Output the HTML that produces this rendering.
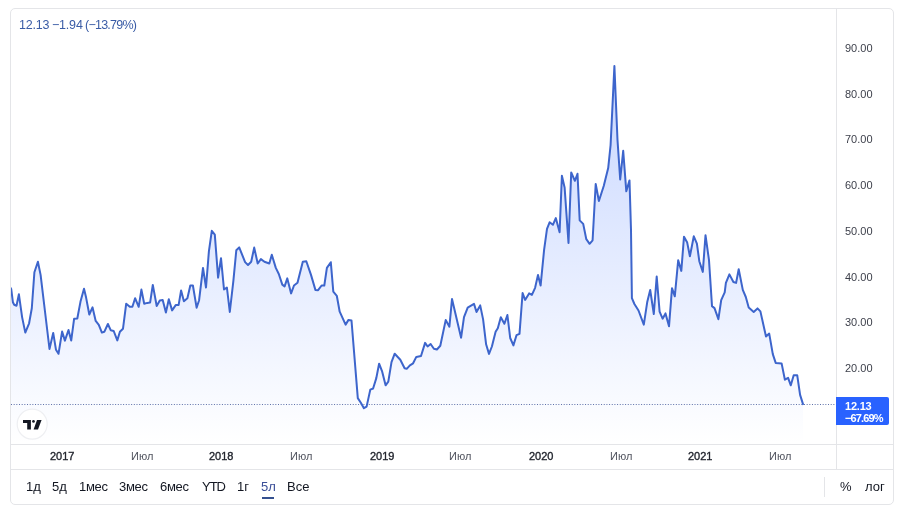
<!DOCTYPE html>
<html>
<head>
<meta charset="utf-8">
<style>
html, body { margin: 0; padding: 0; background: #ffffff; width: 898px; height: 511px; overflow: hidden; }
body { position: relative; font-family: "Liberation Sans", sans-serif; }
.card { position: absolute; left: 10px; top: 8px; width: 882px; height: 495px; border: 1px solid #e4e5e8; border-radius: 5px; box-sizing: content-box; }
svg.chart { position: absolute; left: 0; top: 0; }
.t { position: absolute; white-space: nowrap; line-height: 1; will-change: transform; }
.legend { top: 19px; font-size: 12.5px; color: #3a5ca6; letter-spacing:-0.2px; }
.price { left: 845px; font-size: 11px; color: #3c3f4a; }
.time { top: 451px; font-size: 11px; color: #131722; }
.time.b { font-weight: normal; color: #22252e; -webkit-text-stroke: 0.35px #22252e; }
.time.m { color: #50535e; }
.btn { top: 480px; font-size: 13px; color: #131722; }
.btn.sel { color: #3b4f98; }
.lbl { position: absolute; left: 836px; top: 397px; width: 53px; height: 28px; background: #2962ff; border-radius: 0 2px 2px 0; }
.lbl .t { color: #ffffff; font-size: 11px; font-weight: bold; left: 9px; }
</style>
</head>
<body>
<div class="card"></div>
<svg class="chart" width="898" height="511" viewBox="0 0 898 511">
  <defs>
    <linearGradient id="g" x1="0" y1="66" x2="0" y2="444" gradientUnits="userSpaceOnUse">
      <stop offset="0" stop-color="#2962ff" stop-opacity="0.26"/>
      <stop offset="1" stop-color="#2962ff" stop-opacity="0.0"/>
    </linearGradient>
    <clipPath id="pane"><rect x="11" y="9" width="825" height="435"/></clipPath>
  </defs>
  <g clip-path="url(#pane)">
    <path d="M10 287 L11.2 289 L12.9 302.2 L14.2 304.8 L16.5 305.7 L18.9 294.3 L22.1 317.1 L25.3 332.6 L29.1 323.3 L31.8 308.3 L34.4 272.2 L37.9 261.7 L40.6 274.9 L49.5 349 L53.2 332.9 L56 349.8 L58.5 353.8 L62.1 331.6 L64.9 340.6 L68.5 330 L71.2 340.6 L74.1 318.8 L77.3 318.5 L80.5 301.6 L84 288.8 L86.1 297.6 L89.3 314.5 L92.5 307.3 L95.7 320.9 L98.8 324.8 L101.9 332.6 L104.3 331.8 L107.9 324 L110.8 330.3 L113.7 331 L117.3 340.4 L119.9 331.8 L123 328.7 L126.2 303.7 L129.8 306.8 L132.4 306.8 L135.1 298.2 L138.7 306.8 L141.4 289.6 L144.2 303.7 L147.3 302.9 L150.1 302.6 L152.8 284.9 L156.7 306 L159.8 300.5 L162.7 300 L165.9 312.6 L168.8 299.2 L172.1 310.4 L175.7 305.1 L178.6 305.1 L181.1 290.4 L183.9 301.2 L187.4 298.3 L190.3 285.5 L192.9 285.5 L196.6 307.7 L199.1 300.2 L203 267.9 L206 287.5 L208.9 251.3 L211.8 230.8 L214.8 234.7 L218.1 277.7 L221 258.2 L224 289.5 L226.9 287.5 L229.8 312 L233.4 280.7 L236.3 250.3 L239.2 247.4 L245.1 262.1 L248 265 L251.2 261.7 L254.2 247.6 L257.7 263.5 L260.9 259.1 L264.4 261.7 L269.3 263.5 L271.8 254.7 L275.8 267.9 L278.8 274 L282.3 284.6 L284.6 286.4 L287.3 278.4 L291.1 293.4 L294 285.5 L297.5 282.8 L302.8 261.7 L306.3 261.2 L311 274.9 L315.4 289.9 L318.1 290.2 L321.6 285.5 L324.3 285.5 L326.9 267.9 L330.8 262.2 L333.3 291.7 L336.8 295.8 L339.7 311.7 L345.6 324.6 L348.5 319.9 L351.5 320.5 L357.8 398.1 L361 403 L363.9 408.2 L366.6 406.6 L370.3 389.6 L373.1 388.5 L376.3 378.1 L379.1 363.7 L382.2 371.7 L385.6 385.3 L388.3 381.6 L391.5 362.1 L394.7 353.7 L400.3 359.7 L404.6 368.2 L406.7 368.8 L409.9 365.3 L413.1 363.3 L416.3 356.9 L421 356 L425.1 342.9 L427.6 346.5 L430.6 344 L433.9 348.7 L436.9 349.5 L440.3 345.8 L445.7 320.1 L449.4 326.7 L452 299.1 L461.1 337.7 L464 317.2 L467.7 307.6 L474 303.9 L476.5 312 L480.2 305.4 L483.1 319.4 L486.1 344.3 L489 353.9 L491.9 346.5 L495.6 331.8 L497.8 328.2 L500.8 317.2 L504.4 323.8 L507.4 315 L510.2 338 L513.4 345.4 L516.5 335.2 L519.5 333.9 L522.6 293 L525.1 299.9 L529.1 293.4 L531.9 294.9 L535.1 287.8 L538 274.9 L540.6 285.6 L544.1 249.9 L547 228.9 L549.6 222.3 L552.9 224.8 L555.8 218.1 L559.6 232.3 L561.9 175.8 L564.6 187.4 L568.5 243 L571.2 172.5 L574.9 180.8 L577.5 173.8 L579.7 220.4 L583.2 223.9 L586.3 239.2 L589.6 243.8 L592.6 240.3 L595.7 184 L598.9 201 L603.8 185.7 L608.2 168.1 L610.6 145 L614.4 66 L617.5 140 L620.2 179.5 L623.2 150.8 L626.3 191.3 L629.5 180.4 L631 230 L631.9 298.2 L634.4 304 L638.5 310.5 L643.8 324.6 L647.3 301.7 L650.2 290 L653.8 314 L656.7 276.5 L659.6 311.7 L662.6 318.7 L665.5 313.4 L669 326.3 L672 288.2 L674.8 296.3 L678.2 260.2 L681.3 270.9 L684 236.7 L687.2 242.6 L689.9 256.3 L693.8 236.3 L696.9 243.6 L699.3 261.2 L702.8 271.9 L705.5 235.2 L709 260.2 L712 306.1 L714.5 308.1 L718.4 319.2 L721.2 300.2 L724.7 292.4 L725.9 282.9 L729.4 274.4 L733.4 282 L736.1 282.9 L738.7 269.2 L742.8 289.9 L745.8 297 L748.7 307.5 L753.7 311.9 L757.5 308.4 L760.4 311.4 L766 336.5 L769.2 333.6 L772.8 354.1 L775.7 362.9 L781.6 363.4 L784.9 379.7 L788.1 377.8 L790.8 385.3 L793.7 375.2 L797.2 375.2 L800.1 394.9 L803 404.1 L803 444 L10 444 Z" fill="url(#g)" stroke="none"/>
    <line x1="11" y1="404.5" x2="836" y2="404.5" stroke="#5d70a8" stroke-width="1" stroke-dasharray="1 1.67"/>
    <path d="M10 287 L11.2 289 L12.9 302.2 L14.2 304.8 L16.5 305.7 L18.9 294.3 L22.1 317.1 L25.3 332.6 L29.1 323.3 L31.8 308.3 L34.4 272.2 L37.9 261.7 L40.6 274.9 L49.5 349 L53.2 332.9 L56 349.8 L58.5 353.8 L62.1 331.6 L64.9 340.6 L68.5 330 L71.2 340.6 L74.1 318.8 L77.3 318.5 L80.5 301.6 L84 288.8 L86.1 297.6 L89.3 314.5 L92.5 307.3 L95.7 320.9 L98.8 324.8 L101.9 332.6 L104.3 331.8 L107.9 324 L110.8 330.3 L113.7 331 L117.3 340.4 L119.9 331.8 L123 328.7 L126.2 303.7 L129.8 306.8 L132.4 306.8 L135.1 298.2 L138.7 306.8 L141.4 289.6 L144.2 303.7 L147.3 302.9 L150.1 302.6 L152.8 284.9 L156.7 306 L159.8 300.5 L162.7 300 L165.9 312.6 L168.8 299.2 L172.1 310.4 L175.7 305.1 L178.6 305.1 L181.1 290.4 L183.9 301.2 L187.4 298.3 L190.3 285.5 L192.9 285.5 L196.6 307.7 L199.1 300.2 L203 267.9 L206 287.5 L208.9 251.3 L211.8 230.8 L214.8 234.7 L218.1 277.7 L221 258.2 L224 289.5 L226.9 287.5 L229.8 312 L233.4 280.7 L236.3 250.3 L239.2 247.4 L245.1 262.1 L248 265 L251.2 261.7 L254.2 247.6 L257.7 263.5 L260.9 259.1 L264.4 261.7 L269.3 263.5 L271.8 254.7 L275.8 267.9 L278.8 274 L282.3 284.6 L284.6 286.4 L287.3 278.4 L291.1 293.4 L294 285.5 L297.5 282.8 L302.8 261.7 L306.3 261.2 L311 274.9 L315.4 289.9 L318.1 290.2 L321.6 285.5 L324.3 285.5 L326.9 267.9 L330.8 262.2 L333.3 291.7 L336.8 295.8 L339.7 311.7 L345.6 324.6 L348.5 319.9 L351.5 320.5 L357.8 398.1 L361 403 L363.9 408.2 L366.6 406.6 L370.3 389.6 L373.1 388.5 L376.3 378.1 L379.1 363.7 L382.2 371.7 L385.6 385.3 L388.3 381.6 L391.5 362.1 L394.7 353.7 L400.3 359.7 L404.6 368.2 L406.7 368.8 L409.9 365.3 L413.1 363.3 L416.3 356.9 L421 356 L425.1 342.9 L427.6 346.5 L430.6 344 L433.9 348.7 L436.9 349.5 L440.3 345.8 L445.7 320.1 L449.4 326.7 L452 299.1 L461.1 337.7 L464 317.2 L467.7 307.6 L474 303.9 L476.5 312 L480.2 305.4 L483.1 319.4 L486.1 344.3 L489 353.9 L491.9 346.5 L495.6 331.8 L497.8 328.2 L500.8 317.2 L504.4 323.8 L507.4 315 L510.2 338 L513.4 345.4 L516.5 335.2 L519.5 333.9 L522.6 293 L525.1 299.9 L529.1 293.4 L531.9 294.9 L535.1 287.8 L538 274.9 L540.6 285.6 L544.1 249.9 L547 228.9 L549.6 222.3 L552.9 224.8 L555.8 218.1 L559.6 232.3 L561.9 175.8 L564.6 187.4 L568.5 243 L571.2 172.5 L574.9 180.8 L577.5 173.8 L579.7 220.4 L583.2 223.9 L586.3 239.2 L589.6 243.8 L592.6 240.3 L595.7 184 L598.9 201 L603.8 185.7 L608.2 168.1 L610.6 145 L614.4 66 L617.5 140 L620.2 179.5 L623.2 150.8 L626.3 191.3 L629.5 180.4 L631 230 L631.9 298.2 L634.4 304 L638.5 310.5 L643.8 324.6 L647.3 301.7 L650.2 290 L653.8 314 L656.7 276.5 L659.6 311.7 L662.6 318.7 L665.5 313.4 L669 326.3 L672 288.2 L674.8 296.3 L678.2 260.2 L681.3 270.9 L684 236.7 L687.2 242.6 L689.9 256.3 L693.8 236.3 L696.9 243.6 L699.3 261.2 L702.8 271.9 L705.5 235.2 L709 260.2 L712 306.1 L714.5 308.1 L718.4 319.2 L721.2 300.2 L724.7 292.4 L725.9 282.9 L729.4 274.4 L733.4 282 L736.1 282.9 L738.7 269.2 L742.8 289.9 L745.8 297 L748.7 307.5 L753.7 311.9 L757.5 308.4 L760.4 311.4 L766 336.5 L769.2 333.6 L772.8 354.1 L775.7 362.9 L781.6 363.4 L784.9 379.7 L788.1 377.8 L790.8 385.3 L793.7 375.2 L797.2 375.2 L800.1 394.9 L803 404.1" fill="none" stroke="#3d65cc" stroke-width="2" stroke-linejoin="round" stroke-linecap="round"/>
  </g>
  <!-- separators -->
  <line x1="836.5" y1="9" x2="836.5" y2="469" stroke="#e4e5e8" stroke-width="1"/>
  <line x1="11" y1="444.5" x2="893" y2="444.5" stroke="#e4e5e8" stroke-width="1"/>
  <line x1="11" y1="469.5" x2="893" y2="469.5" stroke="#e4e5e8" stroke-width="1"/>
  <line x1="824.5" y1="477" x2="824.5" y2="497" stroke="#e4e5e8" stroke-width="1"/>
  <!-- logo -->
  <circle cx="32.2" cy="424.1" r="15" fill="#ffffff" stroke="#eeeff2" stroke-width="1.2"/>
  <g fill="#131722">
    <path d="M23 420 H30.9 V429.4 H27.2 V422.9 H23 Z"/>
    <circle cx="33.5" cy="421.4" r="1.35"/>
    <path d="M37 420 H41.6 L38 429.4 H33.6 Z"/>
  </g>
  <!-- underline selected -->
  <rect x="262" y="497" width="12" height="2" fill="#34508f"/>
</svg>

<div class="t legend" style="left:19px">12.13</div>
<div class="t legend" style="left:52px">−1.94</div>
<div class="t legend" style="left:85px;letter-spacing:-0.75px">(−13.79%)</div>

<div class="t price" style="top:43px">90.00</div>
<div class="t price" style="top:89px">80.00</div>
<div class="t price" style="top:134px">70.00</div>
<div class="t price" style="top:180px">60.00</div>
<div class="t price" style="top:226px">50.00</div>
<div class="t price" style="top:272px">40.00</div>
<div class="t price" style="top:317px">30.00</div>
<div class="t price" style="top:363px">20.00</div>

<div class="lbl">
  <div class="t" style="top:4px;letter-spacing:-0.2px">12.13</div>
  <div class="t" style="top:16px;letter-spacing:-0.85px">−67.69%</div>
</div>

<div class="t time b" style="left:50px">2017</div>
<div class="t time m" style="left:130.6px">Июл</div>
<div class="t time b" style="left:209px">2018</div>
<div class="t time m" style="left:289.6px">Июл</div>
<div class="t time b" style="left:370px">2019</div>
<div class="t time m" style="left:448.6px">Июл</div>
<div class="t time b" style="left:529px">2020</div>
<div class="t time m" style="left:609.6px">Июл</div>
<div class="t time b" style="left:688px">2021</div>
<div class="t time m" style="left:768.6px">Июл</div>

<div class="t btn" style="left:26px">1д</div>
<div class="t btn" style="left:52px">5д</div>
<div class="t btn" style="left:79px;letter-spacing:-0.3px">1мес</div>
<div class="t btn" style="left:119px;letter-spacing:-0.3px">3мес</div>
<div class="t btn" style="left:160px;letter-spacing:-0.3px">6мес</div>
<div class="t btn" style="left:202px;letter-spacing:-1px">YTD</div>
<div class="t btn" style="left:237px">1г</div>
<div class="t btn sel" style="left:261px">5л</div>
<div class="t btn" style="left:287px">Все</div>
<div class="t btn" style="left:840px">%</div>
<div class="t btn" style="left:865px">лог</div>
</body>
</html>
